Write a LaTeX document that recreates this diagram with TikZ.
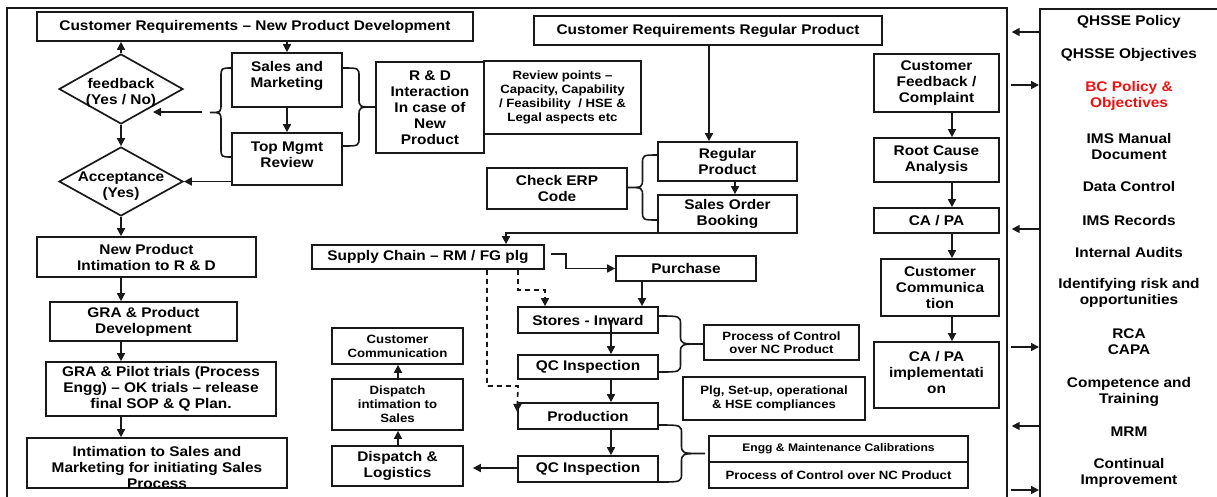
\documentclass[tikz,border=0pt]{standalone}
\usepackage{fontspec}
\setmainfont{Liberation Sans}[FakeStretch=1.1]
\usetikzlibrary{shapes.geometric,arrows.meta}
\definecolor{bcred}{RGB}{232,20,20}
% brace: x0, ytop, ybottom, xtip
\newcommand{\mybrace}[4]{%
  \draw[brc] (#1,#2) .. controls ({(#1+#4)/2},#2) .. ({(#1+#4)/2},{#2+9})
    -- ({(#1+#4)/2},{(#2+#3)/2-9}) .. controls ({(#1+#4)/2},{(#2+#3)/2}) .. (#4,{(#2+#3)/2})
    .. controls ({(#1+#4)/2},{(#2+#3)/2}) .. ({(#1+#4)/2},{(#2+#3)/2+9})
    -- ({(#1+#4)/2},{#3-9}) .. controls ({(#1+#4)/2},#3) .. (#1,#3);}
\begin{document}
\begin{tikzpicture}[x=1pt,y=-1pt,
  box/.style={draw=black!90, line width=1.7pt, inner sep=0pt, align=center, font=\bfseries\fontsize{14}{16}\selectfont},
  sbox/.style={box, font=\bfseries\fontsize{12}{14}\selectfont},
  wh/.style 2 args={minimum width=#1pt, minimum height=#2pt},
  txt/.style={align=center, inner sep=0pt, font=\bfseries\fontsize{14}{16}\selectfont},
  dia/.style={draw=black!90, diamond, line width=1.7pt, inner sep=0pt, minimum width=124pt, minimum height=70pt},
  arr/.style={draw=black!90, line width=1.6pt, -{Triangle[length=8pt,width=8pt]}},
  darr/.style={arr, dash pattern=on 5pt off 4pt},
  brc/.style={draw=black!90, line width=1.6pt},
]
\useasboundingbox (0,0) rectangle (1217,496);
% frames
\node[draw=black!90, line width=1.7pt, inner sep=0pt, minimum width=1000pt, minimum height=520pt, anchor=north west] (frame) at (6,7) {};
\node[draw=black!90, line width=1.7pt, inner sep=0pt, minimum width=200pt, minimum height=520pt, anchor=north west] (panel) at (1039,8) {};

% left column
\node[box, wh={436}{29}] (crnpd) at (255,26.5) {Customer Requirements -- New Product Development};
\node[dia] (fb) at (121,89) {};
\node[txt] (fbt) at (121,92.5) {feedback\\(Yes / No)};
\node[dia, minimum height=69pt] (acc) at (121,181.5) {};
\node[txt] (acct) at (121,186) {Acceptance\\(Yes)};
\node[box, wh={110}{54}] (sm) at (287,80) {};
\node[txt] (smt) at (287,75.5) {Sales and\\Marketing};
\node[box, wh={110}{52}] (tm) at (287,159) {};
\node[txt] (tmt) at (287,154.5) {Top Mgmt\\Review};
\node[box, wh={108}{91}] (rd) at (430,107.5) {R \& D\\Interaction\\In case of\\New\\Product};
\node[sbox, wh={157}{73}] (rp) at (562.5,97.5) {Review points --\\Capacity, Capability\\/ Feasibility~ / HSE \&\\Legal aspects etc};
\node[box, wh={219}{40}] (npi) at (146.5,257) {New Product\\Intimation to R \& D};
\node[box, wh={187}{39}] (grapd) at (143.5,321.5) {GRA \& Product\\Development};
\node[box, wh={230}{54}] (grapt) at (161,389) {GRA \& Pilot trials (Process\\Engg) -- OK trials -- release\\final SOP \& Q Plan.};
\node[box, wh={260}{50}] (ism) at (157,463) {};
\node[txt] (ismt) at (157,467) {Intimation to Sales and\\Marketing for initiating Sales\\Process};

% middle
\node[box, wh={348}{29}] (crrp) at (708,30.5) {Customer Requirements Regular Product};
\node[box, wh={139}{39}] (regp) at (727.5,161.5) {Regular\\Product};
\node[box, wh={139}{38}] (sob) at (727.5,214) {Sales Order\\Booking};
\node[box, wh={140}{41}] (erp) at (557,188.5) {Check ERP\\Code};
\node[box, wh={232}{24}] (sc) at (428,257) {Supply Chain -- RM / FG plg};
\node[box, wh={140}{25}] (pur) at (686,268.5) {Purchase};
\node[box, wh={140}{26}] (si) at (588,320) {Stores - Inward};
\node[box, wh={140}{24}] (qc1) at (588,367) {QC Inspection};
\node[box, wh={140}{26}] (prod) at (588,416) {Production};
\node[box, wh={140}{26}] (qc2) at (588,469) {QC Inspection};
\node[box, wh={131}{40}] (dl) at (397.5,466) {Dispatch \&\\Logistics};
\node[sbox, wh={131}{51}] (dis) at (397.5,404.5) {Dispatch\\intimation to\\Sales};
\node[sbox, wh={131}{36}] (cc) at (397.5,346) {Customer\\Communication};
\node[sbox, wh={155}{35}, font=\bfseries\fontsize{12}{13.5}\selectfont] (pcnc) at (781.5,342.5) {Process of Control\\over NC Product};
\node[sbox, wh={182}{43}] (plg) at (774,398.5) {Plg, Set-up, operational\\\& HSE compliances};
\node[sbox, wh={259}{26}, font=\bfseries\fontsize{11}{13}\selectfont] (engg) at (838.5,449) {Engg \& Maintenance Calibrations};
\node[sbox, wh={259}{26}] (pcnc2) at (838.5,475) {Process of Control over NC Product};

% right column
\node[box, wh={125}{58}] (cfc) at (936.5,83) {Customer\\Feedback /\\Complaint};
\node[box, wh={125}{44}] (rca) at (936.5,160) {Root Cause\\Analysis};
\node[box, wh={125}{25}] (capa) at (936.5,220.5) {CA / PA};
\node[box, wh={118}{57}] (ccom) at (940,287.5) {Customer\\Communica\\tion};
\node[box, wh={125}{66}] (capai) at (936.5,375) {};
\node[txt] (capait) at (936.5,372) {CA / PA\\implementati\\on};

% panel texts
\node[txt] (p1) at (1129,22) {QHSSE Policy};
\node[txt] (p2) at (1129,55) {QHSSE Objectives};
\node[txt, text=bcred] (p3) at (1129,96) {BC Policy \&\\Objectives};
\node[txt] (p4) at (1129,146) {IMS Manual\\Document};
\node[txt] (p5) at (1129,186) {Data Control};
\node[txt] (p6) at (1129,220) {IMS Records};
\node[txt] (p7) at (1129,252) {Internal Audits};
\node[txt] (p8) at (1129,293) {Identifying risk and\\opportunities};
\node[txt] (p9) at (1129,342) {RCA\\CAPA};
\node[txt] (p10) at (1129,392) {Competence and\\Training};
\node[txt] (p11) at (1129,432) {MRM};
\node[txt] (p12) at (1129,473) {Continual\\Improvement};

% braces
\mybrace{232}{68}{157}{210}
\mybrace{343}{68}{146}{375}
\mybrace{658}{155}{220}{627}
\mybrace{658}{316}{372}{703}
\mybrace{658}{425}{482}{705}
\coordinate (b1) at (202,112);
\coordinate (fbin) at (153,112);

% connectors left
\draw[arr] (fb.north) -- (fb.north |- crnpd.south);
\draw[arr] (fb.south) -- (acc.north);
\draw[arr] (acc.south) -- (acc.south |- npi.north);
\draw[arr] (sm.north |- crnpd.south) -- (sm.north);
\draw[arr] (sm.south) -- (tm.north);
\draw[arr] (b1) -- (fbin);
\draw[arr] (tm.west |- acc.east) -- (acc.east);
\draw[arr] (acc.south |- npi.south) -- (acc.south |- grapd.north);
\draw[arr] (acc.south |- grapd.south) -- (acc.south |- grapt.north);
\draw[arr] (acc.south |- grapt.south) -- (acc.south |- ism.north);

% connectors middle
\draw[arr] (crrp.south -| 709,0) -- (regp.north -| 709,0);
\draw[arr] (regp.south -| 735,0) -- (sob.north -| 735,0);
\draw[arr] ([yshift=1pt]sob.south west) -| ([xshift=78pt]sc.north);
\draw[arr] ([xshift=6pt,yshift=3pt]sc.east) -- ++(15,0) |- (pur.west);
\draw[arr] (pur.south -| 642,0) -- (si.north -| 642,0);
\draw[darr] (sc.south -| 518,0) |- (545,290) -- (si.north -| 545,0);
\draw[darr] (sc.south -| 487,0) |- (518,386) -- ([yshift=4pt]prod.west);
\draw[arr] (si.center -| 611,0) -- (qc1.north -| 611,0);
\draw[arr] (qc1.south -| 611,0) -- (prod.north -| 611,0);
\draw[arr] (prod.south -| 611,0) -- (qc2.north -| 611,0);
\draw[arr, shorten >=9pt] ([yshift=1pt]qc2.west) -- ([yshift=1pt]dl.east |- qc2.west);
\draw[arr] (dl.north -| 398,0) -- (dis.south -| 398,0);
\draw[arr] (dis.north -| 398,0) -- (cc.south -| 398,0);

% connectors right
\draw[arr] (cfc.south -| 952,0) -- (rca.north -| 952,0);
\draw[arr] (rca.south -| 952,0) -- (capa.north -| 952,0);
\draw[arr] (capa.south -| 952,0) -- (ccom.north -| 952,0);
\draw[arr] (ccom.south -| 952,0) -- (capai.north -| 952,0);

% frame-panel arrows
\foreach \yy in {32,229,426} \draw[arr, shorten >=4pt] (panel.west |- 0,\yy) -- (frame.east |- 0,\yy);
\foreach \yy in {85,347,490} \draw[arr, shorten <=3pt] (frame.east |- 0,\yy) -- (panel.west |- 0,\yy);
\end{tikzpicture}
\end{document}
